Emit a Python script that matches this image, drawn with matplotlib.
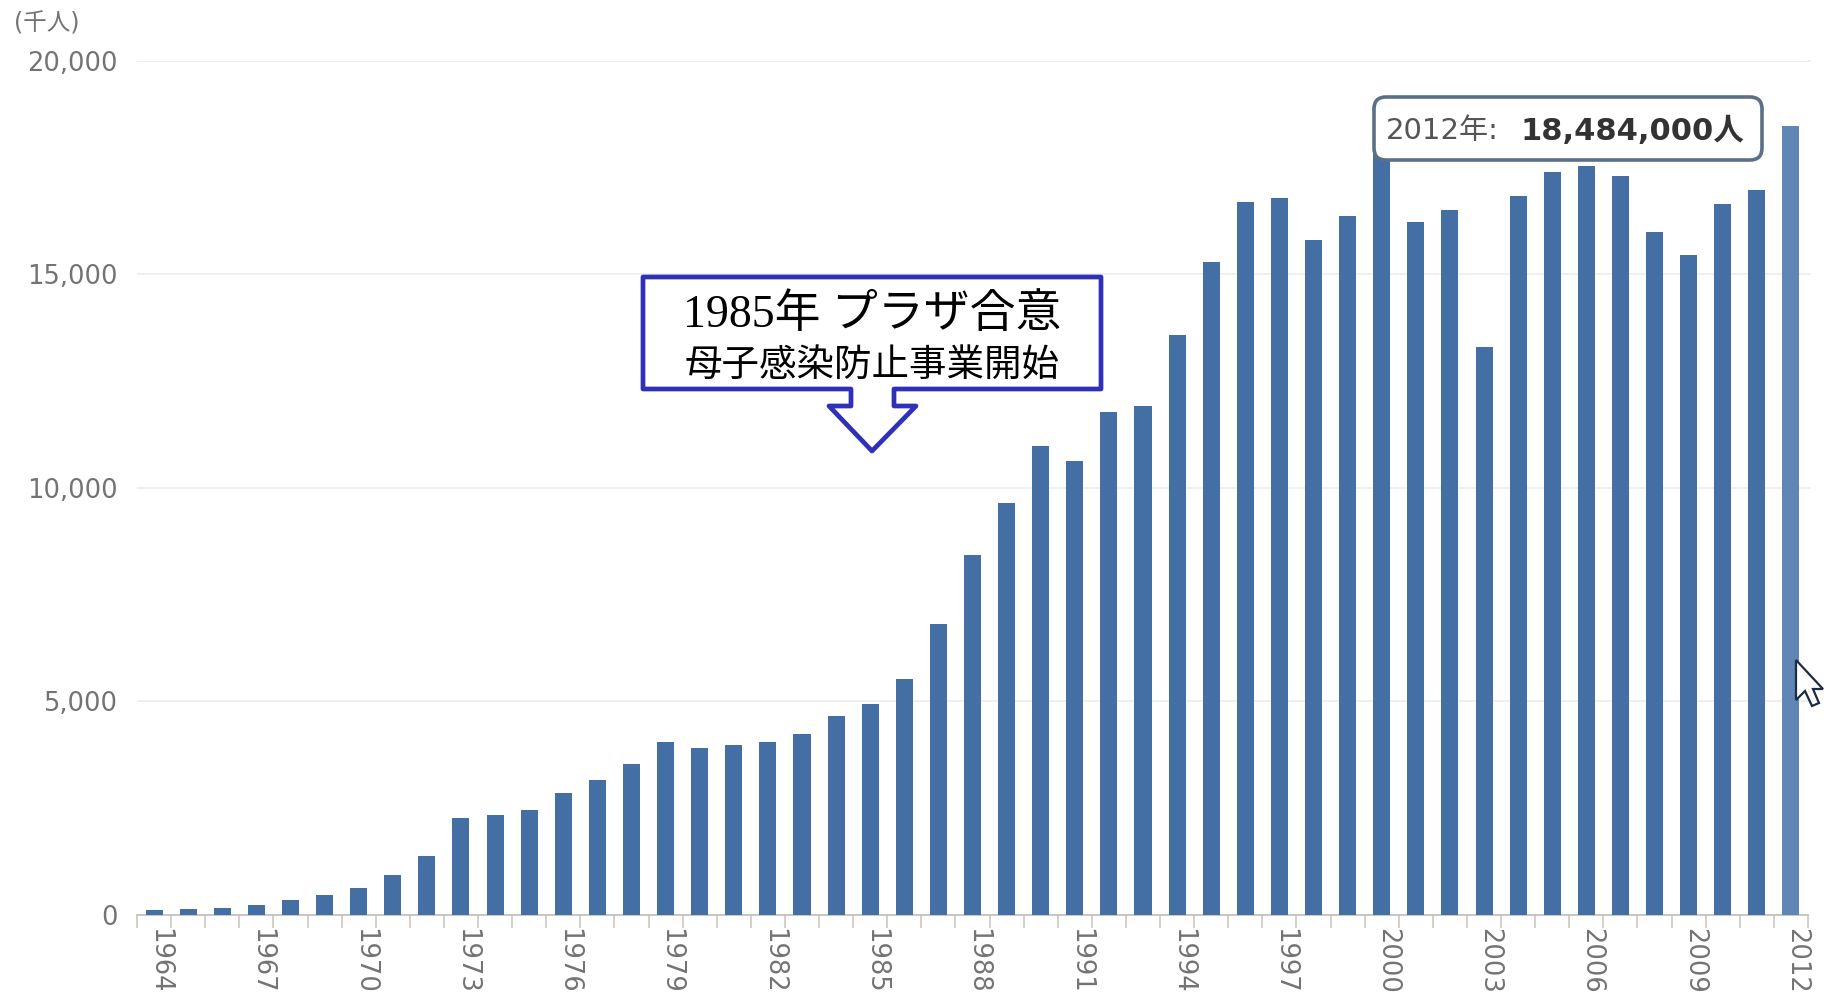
import matplotlib
matplotlib.use("Agg")
import matplotlib.pyplot as plt
from matplotlib.patches import FancyBboxPatch, Polygon
from matplotlib.transforms import Affine2D, ScaledTranslation

years = list(range(1964, 2013))
visitors = [110, 130, 170, 230, 350, 470, 640, 930, 1390, 2280, 2340, 2470, 2850, 3150, 3530,
            4040, 3910, 3990, 4040, 4230, 4660, 4950, 5520, 6820, 8440, 9660, 10990, 10630,
            11790, 11930, 13580, 15300, 16690, 16800, 15810, 16360, 17820, 16220, 16520,
            13300, 16830, 17400, 17530, 17300, 15990, 15450, 16640, 16990, 18484]
y_ticks = [0, 5000, 10000, 15000, 20000]
x_label_years = list(range(1964, 2013, 3))
unit_label = "(千人)"
callout_title = "1985年 プラザ合意"
callout_sub = "母子感染防止事業開始"
tip_year = "2012年:"
tip_value = "18,484,000人"

W, H = 1826, 997
SANS = ['DejaVu Sans', 'Noto Sans CJK JP']
plt.rcParams['font.family'] = SANS
GRAY = '#737373'

fig = plt.figure(figsize=(W / 100, H / 100), dpi=100, facecolor='white')
L, R, T, B = 137, 1808, 61, 915
ax = fig.add_axes([L / W, (H - B) / H, (R - L) / W, (B - T) / H])
px = Affine2D().scale(1 / W, -1 / H).translate(0, 1) + fig.transFigure

colors = ['#446fa4'] * (len(years) - 1) + ['#5f86b5']
ax.bar(years, visitors, width=0.5, color=colors, zorder=3)
ax.set_xlim(1963.5, 2012.5)
ax.set_ylim(0, 20000)
for s in ['top', 'left', 'right']:
    ax.spines[s].set_visible(False)
ax.spines['bottom'].set_color('#bdbdbd')
ax.spines['bottom'].set_linewidth(1.2)

ax.set_yticks(y_ticks)
ax.set_yticklabels([f"{v:,}" for v in y_ticks], fontsize=18.5, color=GRAY)
ax.tick_params(axis='y', length=0, pad=14)
ax.grid(axis='y', color='#eeeeee', linewidth=1.3, zorder=0)
ax.set_axisbelow(True)
for v in y_ticks[1:]:
    ax.plot([2012.5, 2012.55], [v, v], color='#eeeeee', lw=1.3, clip_on=False)

ax.set_xticks(x_label_years)
ax.set_xticklabels([str(y) for y in x_label_years], rotation=270, fontsize=18.5, color=GRAY,
                   ha='center', va='top')
ax.tick_params(axis='x', which='major', length=0, pad=9)
offset = ScaledTranslation(5 / 100, 0, fig.dpi_scale_trans)
for lab in ax.get_xticklabels():
    lab.set_transform(lab.get_transform() + offset)
ax.set_xticks([y + 0.5 for y in [years[0] - 1] + years], minor=True)
ax.tick_params(axis='x', which='minor', length=9, width=1.1, color='#c9c2b8')

fig.text(14, 24, unit_label, transform=px, fontsize=17, color=GRAY, ha='left', va='center')

# Tooltip
tip = FancyBboxPatch((1374, 97), 388, 63, boxstyle='round,pad=0,rounding_size=12',
                     transform=px, fc='white', ec='#5a7087', lw=2.6, zorder=10)
fig.add_artist(tip)
fig.text(1386, 131, tip_year, transform=px, fontsize=21, color='#555555', ha='left',
         va='center', zorder=11)
fig.text(1520, 131, tip_value, transform=px, fontsize=22, color='#333333', ha='left',
         va='center', fontweight='bold', zorder=11)

# Cursor
cursor = Polygon([(1796, 660), (1796, 700), (1805, 691), (1812, 706), (1819, 703), (1813, 689),
                  (1823, 689)], closed=True, transform=px, fc='white', ec='#1c2c44', lw=1.6, zorder=12)
fig.add_artist(cursor)

# Callout
callout = Polygon([(643, 277), (1101, 277), (1101, 389), (894, 389), (894, 406), (916, 406),
                   (872, 451), (829, 406), (851, 406), (851, 389), (643, 389)],
                  closed=True, transform=px, fc='white', ec='#2f30b8', lw=3.4,
                  joinstyle='round', zorder=13)
fig.add_artist(callout)
fig.text(872, 316, callout_title, transform=px, fontsize=33, color='black', ha='center',
         va='center', family=['Liberation Serif', 'Noto Sans CJK JP'], zorder=14)
fig.text(872, 365, callout_sub, transform=px, fontsize=27, color='black', ha='center',
         va='center', family=['Noto Sans CJK JP'], zorder=14)

fig.savefig('out.png', dpi=100, facecolor='white')
